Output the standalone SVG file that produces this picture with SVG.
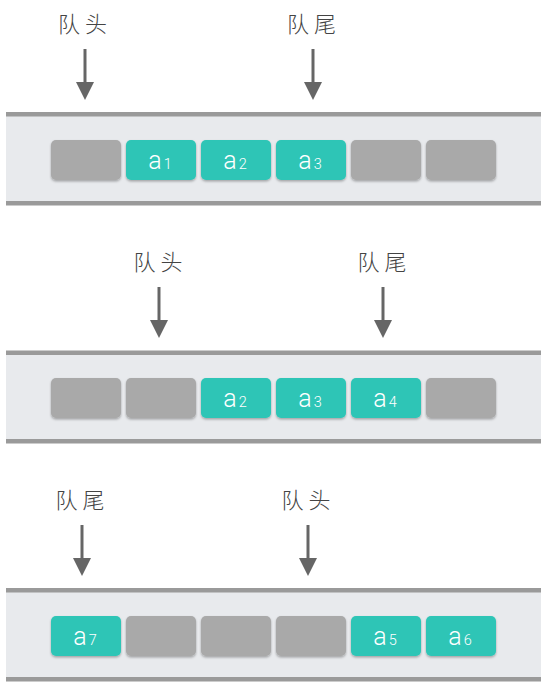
<svg xmlns="http://www.w3.org/2000/svg" width="550" height="689" viewBox="0 0 550 689">
<defs>
<style>
.band{fill:#e8eaed}
.rail{fill:#9a9a9a}
.box{filter:url(#sh)}
.empty{fill:#a9a9a9}
.full{fill:#2ec5b6}
.val{font-family:"Helvetica Neue",Roboto,"Liberation Sans",sans-serif;font-weight:300;font-size:25px;fill:#ffffff;text-anchor:middle}
.sub{font-size:14.5px}
.lbl{font-family:"Noto Sans CJK SC","Noto Sans",sans-serif;font-weight:300;font-size:22px;fill:#444444;text-anchor:middle;letter-spacing:5px}
.shaft{stroke:#666666;stroke-width:3;fill:none}
.head{fill:#666666}
</style>
<filter id="sh" x="-10%" y="-10%" width="120%" height="130%">
<feDropShadow dx="0" dy="1.5" stdDeviation="1.2" flood-color="#000" flood-opacity="0.3"/>
</filter>
<g id="arrowT">
<line class="shaft" x1="0" y1="49" x2="0" y2="84"/>
<polygon class="head" points="-9,82 9,82 0,100"/>
</g>
</defs>

<!-- band 1 -->
<g id="queue1">
<rect class="band" x="6" y="114" width="535" height="89"/>
<rect class="rail" x="6" y="112" width="535" height="4.5"/>
<rect class="rail" x="6" y="201" width="535" height="4.5"/>
</g>
<g id="q1-cell0"><rect class="box empty" x="51" y="140" width="70" height="40" rx="5"/></g>
<g id="q1-cell1"><rect class="box full" x="126" y="140" width="70" height="40" rx="5"/><text class="val" x="160" y="169">a<tspan class="sub" dx="2">1</tspan></text></g>
<g id="q1-cell2"><rect class="box full" x="201" y="140" width="70" height="40" rx="5"/><text class="val" x="235" y="169">a<tspan class="sub" dx="2">2</tspan></text></g>
<g id="q1-cell3"><rect class="box full" x="276" y="140" width="70" height="40" rx="5"/><text class="val" x="310" y="169">a<tspan class="sub" dx="2">3</tspan></text></g>
<g id="q1-cell4"><rect class="box empty" x="351" y="140" width="70" height="40" rx="5"/></g>
<g id="q1-cell5"><rect class="box empty" x="426" y="140" width="70" height="40" rx="5"/></g>
<g id="q1-head-label"><text class="lbl" x="85" y="32">队头</text></g>
<g id="q1-tail-label"><text class="lbl" x="314" y="32">队尾</text></g>

<!-- band 2 -->
<g id="queue2">
<rect class="band" x="6" y="352" width="535" height="89"/>
<rect class="rail" x="6" y="350.5" width="535" height="4.5"/>
<rect class="rail" x="6" y="439" width="535" height="4.5"/>
</g>
<g id="q2-cell0"><rect class="box empty" x="51" y="378" width="70" height="40" rx="5"/></g>
<g id="q2-cell1"><rect class="box empty" x="126" y="378" width="70" height="40" rx="5"/></g>
<g id="q2-cell2"><rect class="box full" x="201" y="378" width="70" height="40" rx="5"/><text class="val" x="235" y="407">a<tspan class="sub" dx="2">2</tspan></text></g>
<g id="q2-cell3"><rect class="box full" x="276" y="378" width="70" height="40" rx="5"/><text class="val" x="310" y="407">a<tspan class="sub" dx="2">3</tspan></text></g>
<g id="q2-cell4"><rect class="box full" x="351" y="378" width="70" height="40" rx="5"/><text class="val" x="385" y="407">a<tspan class="sub" dx="2">4</tspan></text></g>
<g id="q2-cell5"><rect class="box empty" x="426" y="378" width="70" height="40" rx="5"/></g>
<g id="q2-head-label"><text class="lbl" x="160.5" y="270">队头</text></g>
<g id="q2-tail-label"><text class="lbl" x="384.5" y="270">队尾</text></g>

<!-- band 3 -->
<g id="queue3">
<rect class="band" x="6" y="590" width="535" height="89"/>
<rect class="rail" x="6" y="588" width="535" height="4.5"/>
<rect class="rail" x="6" y="677" width="535" height="4.5"/>
</g>
<g id="q3-cell0"><rect class="box full" x="51" y="616" width="70" height="40" rx="5"/><text class="val" x="85" y="645">a<tspan class="sub" dx="2">7</tspan></text></g>
<g id="q3-cell1"><rect class="box empty" x="126" y="616" width="70" height="40" rx="5"/></g>
<g id="q3-cell2"><rect class="box empty" x="201" y="616" width="70" height="40" rx="5"/></g>
<g id="q3-cell3"><rect class="box empty" x="276" y="616" width="70" height="40" rx="5"/></g>
<g id="q3-cell4"><rect class="box full" x="351" y="616" width="70" height="40" rx="5"/><text class="val" x="385" y="645">a<tspan class="sub" dx="2">5</tspan></text></g>
<g id="q3-cell5"><rect class="box full" x="426" y="616" width="70" height="40" rx="5"/><text class="val" x="460" y="645">a<tspan class="sub" dx="2">6</tspan></text></g>
<g id="q3-tail-label"><text class="lbl" x="82.5" y="508">队尾</text></g>
<g id="q3-head-label"><text class="lbl" x="308.5" y="508">队头</text></g>

<!-- connectors -->
<g id="connectors">
<use href="#arrowT" x="85" y="0"/>
<use href="#arrowT" x="313" y="0"/>
<use href="#arrowT" x="159" y="238"/>
<use href="#arrowT" x="383" y="238"/>
<use href="#arrowT" x="82" y="476"/>
<use href="#arrowT" x="308" y="476"/>
</g>
</svg>
